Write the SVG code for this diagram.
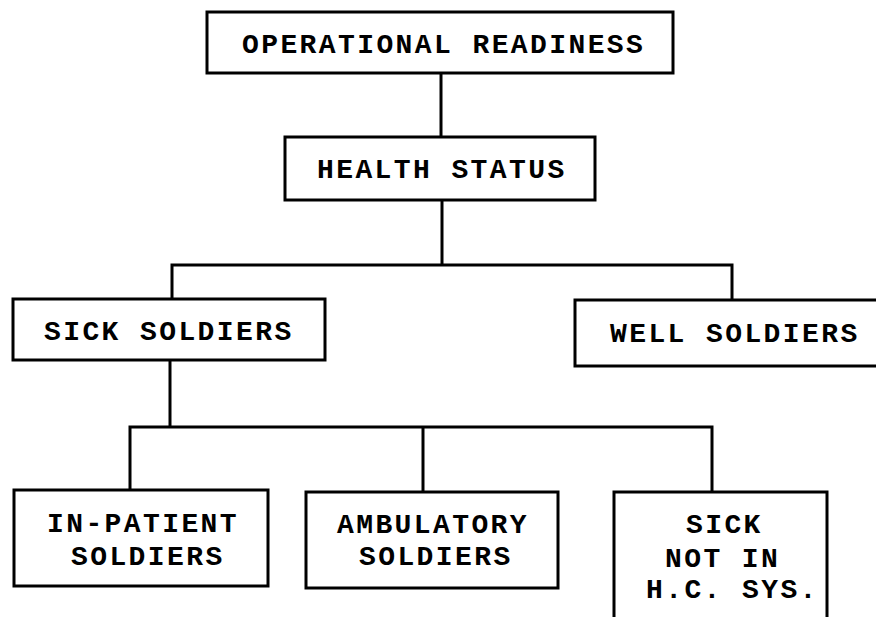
<svg xmlns="http://www.w3.org/2000/svg" width="876" height="617" viewBox="0 0 876 617">
<style>
.box{fill:#fff;stroke:#000;stroke-width:3}
.lbl{font-family:"Liberation Mono","Courier New",monospace;font-weight:bold;font-size:28px;letter-spacing:2.4px;fill:#000}
.con{fill:none;stroke:#000;stroke-width:3}
</style>
<rect width="876" height="617" fill="#fff"/>
<g id="connectors">
<path class="con" d="M441,73 V137"/>
<path class="con" d="M442,200 V265"/>
<path class="con" d="M172,299 V265 H732 V300"/>
<path class="con" d="M170,360 V427"/>
<path class="con" d="M130,490 V427 H712 V492"/>
<path class="con" d="M423,427 V492"/>
</g>
<g id="operational-readiness">
<rect class="box" x="207" y="12" width="466" height="61"/>
<text class="lbl" x="242" y="53">OPERATIONAL READINESS</text>
</g>
<g id="health-status">
<rect class="box" x="285" y="137" width="310" height="63"/>
<text class="lbl" x="317" y="178">HEALTH STATUS</text>
</g>
<g id="sick-soldiers">
<rect class="box" x="13" y="299" width="312" height="61"/>
<text class="lbl" x="44" y="340">SICK SOLDIERS</text>
</g>
<g id="well-soldiers">
<rect class="box" x="575" y="300" width="310" height="66"/>
<text class="lbl" x="610" y="342">WELL SOLDIERS</text>
</g>
<g id="in-patient">
<rect class="box" x="14" y="490" width="254" height="96"/>
<text class="lbl" x="47" y="532">IN-PATIENT</text>
<text class="lbl" x="71" y="565">SOLDIERS</text>
</g>
<g id="ambulatory">
<rect class="box" x="306" y="492" width="252" height="96"/>
<text class="lbl" x="337" y="533">AMBULATORY</text>
<text class="lbl" x="359" y="565">SOLDIERS</text>
</g>
<g id="sick-not-in-hc">
<rect class="box" x="614" y="492" width="213" height="140"/>
<text class="lbl" x="686" y="533">SICK</text>
<text class="lbl" x="665" y="567">NOT IN</text>
<text class="lbl" x="646" y="598">H.C. SYS.</text>
</g>
</svg>
